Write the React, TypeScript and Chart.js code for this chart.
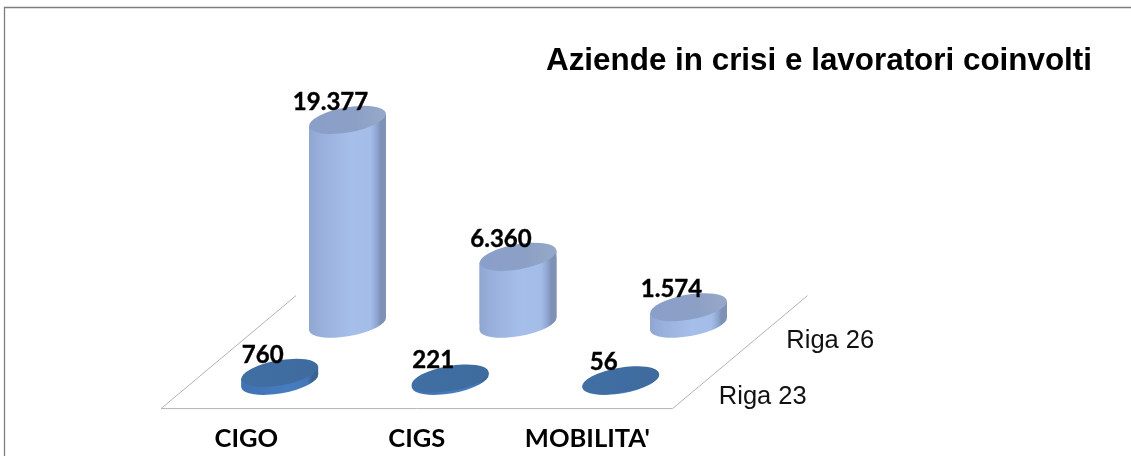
import React, { useEffect, useRef } from "react";
import { Chart, registerables } from "chart.js";

Chart.register(...registerables);

const categories = ["CIGO", "CIGS", "MOBILITA'"];
const riga23Values = [760, 221, 56];
const riga26Values = [19377, 6360, 1574];
const riga23Labels = ["760", "221", "56"];
const riga26Labels = ["19.377", "6.360", "1.574"];
const seriesNames = ["Riga 23", "Riga 26"];

// Pseudo-3D projection set-up (pixels)
const UNIT = 170.5; // px per category
const FIRST_CAT = 246.3; // px of first category on the front floor edge
const AREA_RIGHT = 1092;
const AREA_H = 327.3;
const K = 0.0105; // px per value unit
const DEPTH_X = 135;
const DEPTH_Y = 113;
const ROWS = [0.25, 0.75];
const A = 39;
const B = 12.5;
const ROT = (-10 * Math.PI) / 180;
const EX = 38.5;
const EY = 6;

const xRange = (shift: number) => ({
  min: -(FIRST_CAT + shift) / UNIT,
  max: (AREA_RIGHT - FIRST_CAT - shift) / UNIT,
});
const yRange = (lift: number) => ({
  min: -lift / K,
  max: (AREA_H - lift) / K,
});

const PALETTE = [
  {
    body: [[0, "#3f72b4"], [0.6, "#477cc0"], [0.86, "#4478b8"], [0.92, "#3a6495"], [1, "#386290"]],
    top: [[0, "#406fa3"], [1, "#3f6b9e"]],
  },
  {
    body: [[0, "#8fa6d0"], [0.12, "#97aeda"], [0.55, "#a6bfea"], [0.8, "#a3bce8"], [0.88, "#8fa6d2"], [0.93, "#7e90b6"], [1, "#8093b4"]],
    top: [[0, "#8a9fc9"], [0.6, "#8ca0c6"], [1, "#96a9c8"]],
  },
] as const;

function grad(ctx: CanvasRenderingContext2D, x: number, stops: any) {
  const g = ctx.createLinearGradient(x - EX, 0, x + EX, 0);
  for (const [o, c] of stops) g.addColorStop(o, c);
  return g;
}

function silhouette(ctx: CanvasRenderingContext2D, x: number, top: number, base: number) {
  ctx.moveTo(x - EX, top + EY);
  ctx.lineTo(x + EX, top - EY);
  ctx.lineTo(x + EX, base - EY);
  ctx.lineTo(x - EX, base + EY);
  ctx.closePath();
}

const cylinderPlugin = {
  id: "cylinders",
  beforeDraw(chart: any) {
    const { ctx } = chart;
    ctx.save();
    ctx.strokeStyle = "#7f7f7f";
    ctx.lineWidth = 1.3;
    ctx.beginPath();
    ctx.moveTo(4.5, 456);
    ctx.lineTo(4.5, 7.5);
    ctx.lineTo(1131, 7.5);
    ctx.stroke();
    ctx.restore();
  },
  beforeDatasetsDraw(chart: any) {
    const { ctx, scales, chartArea } = chart;
    const l = scales.x.getPixelForValue(-0.5);
    const r = scales.x.getPixelForValue(2.5);
    const b = chartArea.bottom;
    ctx.save();
    ctx.strokeStyle = "#b2b2b2";
    ctx.lineWidth = 1;
    ctx.beginPath();
    ctx.moveTo(l + DEPTH_X, b - DEPTH_Y);
    ctx.lineTo(l, b);
    ctx.lineTo(r, b);
    ctx.lineTo(r + DEPTH_X, b - DEPTH_Y);
    ctx.stroke();
    ctx.restore();
  },
  beforeDatasetDraw(chart: any, args: any) {
    const { ctx } = chart;
    const meta = chart.getDatasetMeta(args.index);
    ctx.save();
    ctx.beginPath();
    for (const el of meta.data) silhouette(ctx, el.x, el.y, el.base);
    ctx.clip();
  },
  afterDatasetDraw(chart: any, args: any) {
    const { ctx } = chart;
    ctx.restore();
    const meta = chart.getDatasetMeta(args.index);
    const pal = PALETTE[args.index];
    for (const el of meta.data) {
      const { x, y, base } = el;
      ctx.save();
      ctx.fillStyle = grad(ctx, x, pal.body);
      ctx.beginPath();
      ctx.ellipse(x, base, A, B, ROT, 0, Math.PI * 2);
      ctx.fill();
      ctx.beginPath();
      silhouette(ctx, x, y, base);
      ctx.fill();
      ctx.fillStyle = grad(ctx, x, pal.top);
      ctx.beginPath();
      ctx.ellipse(x, y, A, B, ROT, 0, Math.PI * 2);
      ctx.fill();
      ctx.restore();
    }
  },
  afterDatasetsDraw(chart: any) {
    const { ctx, scales } = chart;
    ctx.save();
    ctx.textAlign = "center";
    ctx.textBaseline = "middle";
    ctx.fillStyle = "#000";
    ctx.strokeStyle = "#000";
    ctx.lineWidth = 0.4;
    ctx.font = "bold 24px Lato";
    [riga26Labels, riga23Labels].forEach((labels, r) => {
      const meta = chart.getDatasetMeta(r === 0 ? 1 : 0);
      labels.forEach((t, i) => {
        const el = meta.data[i];
        ctx.fillText(t, el.x - 17, el.y - 18);
        ctx.strokeText(t, el.x - 17, el.y - 18);
      });
    });
    ctx.font = '25.5px "Liberation Sans"';
    ctx.fillStyle = "#111";
    ctx.textAlign = "left";
    ROWS.forEach((d, r) => {
      const right = scales.x.getPixelForValue(2.5) + DEPTH_X * d;
      const y = chart.chartArea.bottom - DEPTH_Y * d;
      ctx.fillText(seriesNames[r], right + 12.5, y + 17);
    });
    ctx.restore();
  },
};

export default function App() {
  const ref = useRef<HTMLCanvasElement>(null);
  useEffect(() => {
    const gradientFor = (row: number, xId: string) => (c: any) => {
      const px = c.dataIndex === undefined ? NaN : c.chart.scales[xId]?.getPixelForValue(c.dataIndex);
      return Number.isFinite(px) ? grad(c.chart.ctx, px, PALETTE[row].body) : PALETTE[row].body[2][1];
    };
    const chart = new Chart(ref.current!, {
      type: "bar",
      data: {
        datasets: [
          {
            label: seriesNames[0],
            data: riga23Values.map((y, x) => ({ x, y })),
            xAxisID: "x23",
            yAxisID: "y23",
            barThickness: 77,
            grouped: false,
            clip: false,
            backgroundColor: gradientFor(0, "x23"),
          },
          {
            label: seriesNames[1],
            data: riga26Values.map((y, x) => ({ x, y })),
            xAxisID: "x26",
            yAxisID: "y26",
            barThickness: 77,
            grouped: false,
            clip: false,
            backgroundColor: gradientFor(1, "x26"),
          },
        ],
      } as any,
      options: {
        animation: false,
        responsive: false,
        events: [],
        layout: { padding: { left: 0, top: 0, right: 1131 - AREA_RIGHT, bottom: -12 } },
        plugins: {
          legend: { display: false },
          tooltip: { enabled: false },
          title: {
            display: true,
            text: "Aziende in crisi e lavoratori coinvolti",
            align: "end",
            color: "#000",
            font: { family: '"Liberation Sans"', size: 31.4, weight: "bold", lineHeight: 1.2 },
            padding: { top: 43, bottom: 0 },
          },
        },
        scales: {
          x: {
            type: "linear",
            position: "bottom",
            offset: false,
            ...xRange(0),
            grid: { display: false, drawTicks: false },
            border: { display: false },
            afterBuildTicks: (s: any) => {
              s.ticks = categories.map((_, i) => ({ value: i }));
            },
            ticks: {
              autoSkip: false,
              maxRotation: 0,
              padding: 14.4,
              color: "#000",
              font: { family: "Lato", size: 25.5, weight: "bold", lineHeight: 1.2 },
              callback: (v: any) => categories[v],
            },
          },
          x23: { type: "linear", display: false, offset: false, ...xRange(33.4) },
          x26: { type: "linear", display: false, offset: false, ...xRange(101.2) },
          y23: { type: "linear", display: false, ...yRange(27.7) },
          y26: { type: "linear", display: false, ...yRange(84.7) },
        },
      } as any,
      plugins: [cylinderPlugin as any],
    });
    return () => chart.destroy();
  }, []);
  return (
    <div style={{ position: "fixed", left: 0, top: 0, width: 1131, height: 456, background: "#fff" }}>
      <canvas ref={ref} width={1131} height={456} style={{ display: "block" }} />
    </div>
  );
}
